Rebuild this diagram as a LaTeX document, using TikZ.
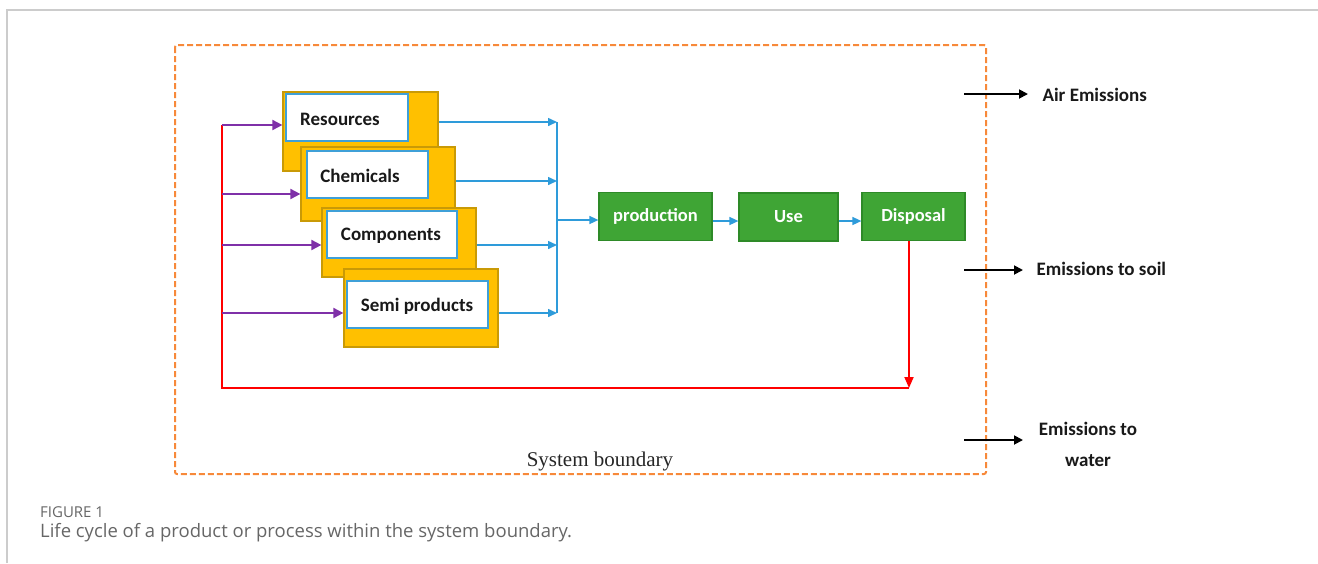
\documentclass[tikz,border=0pt]{standalone}
\usepackage{fontspec}
\setmainfont{Carlito}
\newfontfamily\capfont{Open Sans}
\newfontfamily\timesfont{Liberation Serif}
\usetikzlibrary{arrows.meta,calc}
\definecolor{ygold}{HTML}{FFC000}
\definecolor{ygoldb}{HTML}{C99A06}
\definecolor{wblue}{HTML}{3FA0D8}
\definecolor{ablue}{HTML}{2E9BDA}
\definecolor{apurple}{HTML}{7F30A8}
\definecolor{gfill}{HTML}{3FA535}
\definecolor{gborder}{HTML}{2E8A28}
\definecolor{obound}{HTML}{F7893A}
\definecolor{capgray}{HTML}{666666}
\definecolor{framegray}{HTML}{CCCCCC}
\tikzset{
  ybox/.style={draw=ygoldb, line width=1.2pt, fill=ygold, minimum width=#1, inner sep=0pt},
  wbox/.style={draw=wblue, line width=1.5pt, fill=white, inner sep=0pt, minimum height=47pt},
  wtext/.style={font=\fontsize{19}{22}\selectfont\bfseries, text=black!90, inner sep=0pt},
  gbox/.style={draw=gborder, line width=1.2pt, fill=gfill, inner sep=0pt, minimum height=48pt,
    font=\fontsize{18.5}{22}\selectfont\bfseries, text=white},
  bluearr/.style={draw=ablue, line width=1.5pt, -{Triangle[length=9pt,width=8pt]}},
  purarr/.style={draw=apurple, line width=1.8pt, -{Triangle[length=10pt,width=10pt]}},
  redline/.style={draw=red, line width=1.8pt},
  blkarr/.style={draw=black, line width=1.8pt, -{Triangle[length=9pt,width=9pt]}},
  emtext/.style={font=\fontsize{19}{31}\selectfont\bfseries, text=black!90, align=center},
}
\begin{document}
\begin{tikzpicture}[x=1pt,y=-1pt]
\useasboundingbox (0,0) rectangle (1318,563);
% page frame
\draw[framegray, line width=1.2pt] (7,563) -- (7,10) -- (1318,10);
% system boundary
\draw[obound, line width=2pt, dash pattern=on 6pt off 3pt, rounded corners=2pt] (175,45) rectangle (986,474);
\node[font=\timesfont\fontsize{21}{23}\selectfont, text=black!85] (sb) at (600,461) {System boundary};
% stacked boxes
\node[ybox=155pt, minimum height=79pt] (yres) at (360.5,131.5) {};
\node[wbox, minimum width=122pt] (wres) at (347,117.5) {};
\node[wtext] (tres) at (340,119) {Resources};
\node[ybox=154pt, minimum height=74pt] (ychem) at (378,184) {};
\node[wbox, minimum width=121pt] (wchem) at (367.5,174.5) {};
\node[wtext] (tchem) at (360,176) {Chemicals};
\node[ybox=154pt, minimum height=69pt] (ycomp) at (399,242.5) {};
\node[wbox, minimum width=130pt] (wcomp) at (392,234.5) {};
\node[wtext] (tcomp) at (391,236) {Components};
\node[ybox=154pt, minimum height=78pt] (ysemi) at (421,308) {};
\node[wbox, minimum width=141pt] (wsemi) at (417.5,304.5) {};
\node[wtext] (tsemi) at (417,306) {Semi products};
% green process boxes
\node[gbox, minimum width=113pt] (prod) at (655.5,216.5) {production};
\node[gbox, minimum width=99pt] (use) at (788.5,217) {Use};
\node[gbox, minimum width=103pt] (disp) at (913.5,216.5) {Disposal};
% bus coordinates
\coordinate (b1) at (557,122);
\coordinate (b2) at (557,181);
\coordinate (b3) at (557,245);
\coordinate (b4) at (557,313);
\coordinate (bm) at (557,220);
\draw[bluearr] (yres.east |- b1) -- (b1);
\draw[bluearr] (ychem.east |- b2) -- (b2);
\draw[bluearr] (ycomp.east |- b3) -- (b3);
\draw[bluearr] (ysemi.east |- b4) -- (b4);
\draw[ablue, line width=1.5pt] (b1) -- (b4);
\draw[bluearr] (bm) -- (prod.west |- bm);
\draw[bluearr] (prod.east |- 0,221) -- (use.west |- 0,221);
\draw[bluearr] (use.east |- 0,221) -- (disp.west |- 0,221);
% red feedback loop
\coordinate (r1) at (909,388);
\coordinate (r2) at (222,388);
\coordinate (r3) at (222,125);
\draw[redline, -{Triangle[length=11pt,width=9pt]}] (disp.south -| r1) -- (r1);
\draw[redline] (r1) -- (r2) -- (r3);
% purple inputs
\coordinate (p2) at (222,194);
\coordinate (p3) at (222,245);
\coordinate (p4) at (222,313);
\draw[purarr] (r3) -- (yres.west |- r3);
\draw[purarr] (p2) -- (ychem.west |- p2);
\draw[purarr] (p3) -- (ycomp.west |- p3);
\draw[purarr] (p4) -- (ysemi.west |- p4);
% emissions
\coordinate (e1s) at (964,94);  \coordinate (e1e) at (1028,94);
\coordinate (e2s) at (964,270); \coordinate (e2e) at (1023,270);
\coordinate (e3s) at (964,440); \coordinate (e3e) at (1023,440);
\draw[blkarr] (e1s) -- (e1e);
\draw[blkarr] (e2s) -- (e2e);
\draw[blkarr] (e3s) -- (e3e);
\node[emtext, anchor=west] (air) at (1039,95) {Air Emissions};
\node[emtext, anchor=west] (soil) at (1033,269) {Emissions to soil};
\node[emtext] (water) at (1088,444) {Emissions to\\water};
% caption
\node[font=\capfont\fontsize{15}{17}\selectfont, text=capgray, anchor=west, inner sep=0pt] (fig) at (40,512) {FIGURE 1};
\node[font=\capfont\fontsize{18.5}{20}\selectfont, text=capgray, anchor=west, inner sep=0pt] (cap) at (40,533) {Life cycle of a product or process within the system boundary.};
\end{tikzpicture}
\end{document}
